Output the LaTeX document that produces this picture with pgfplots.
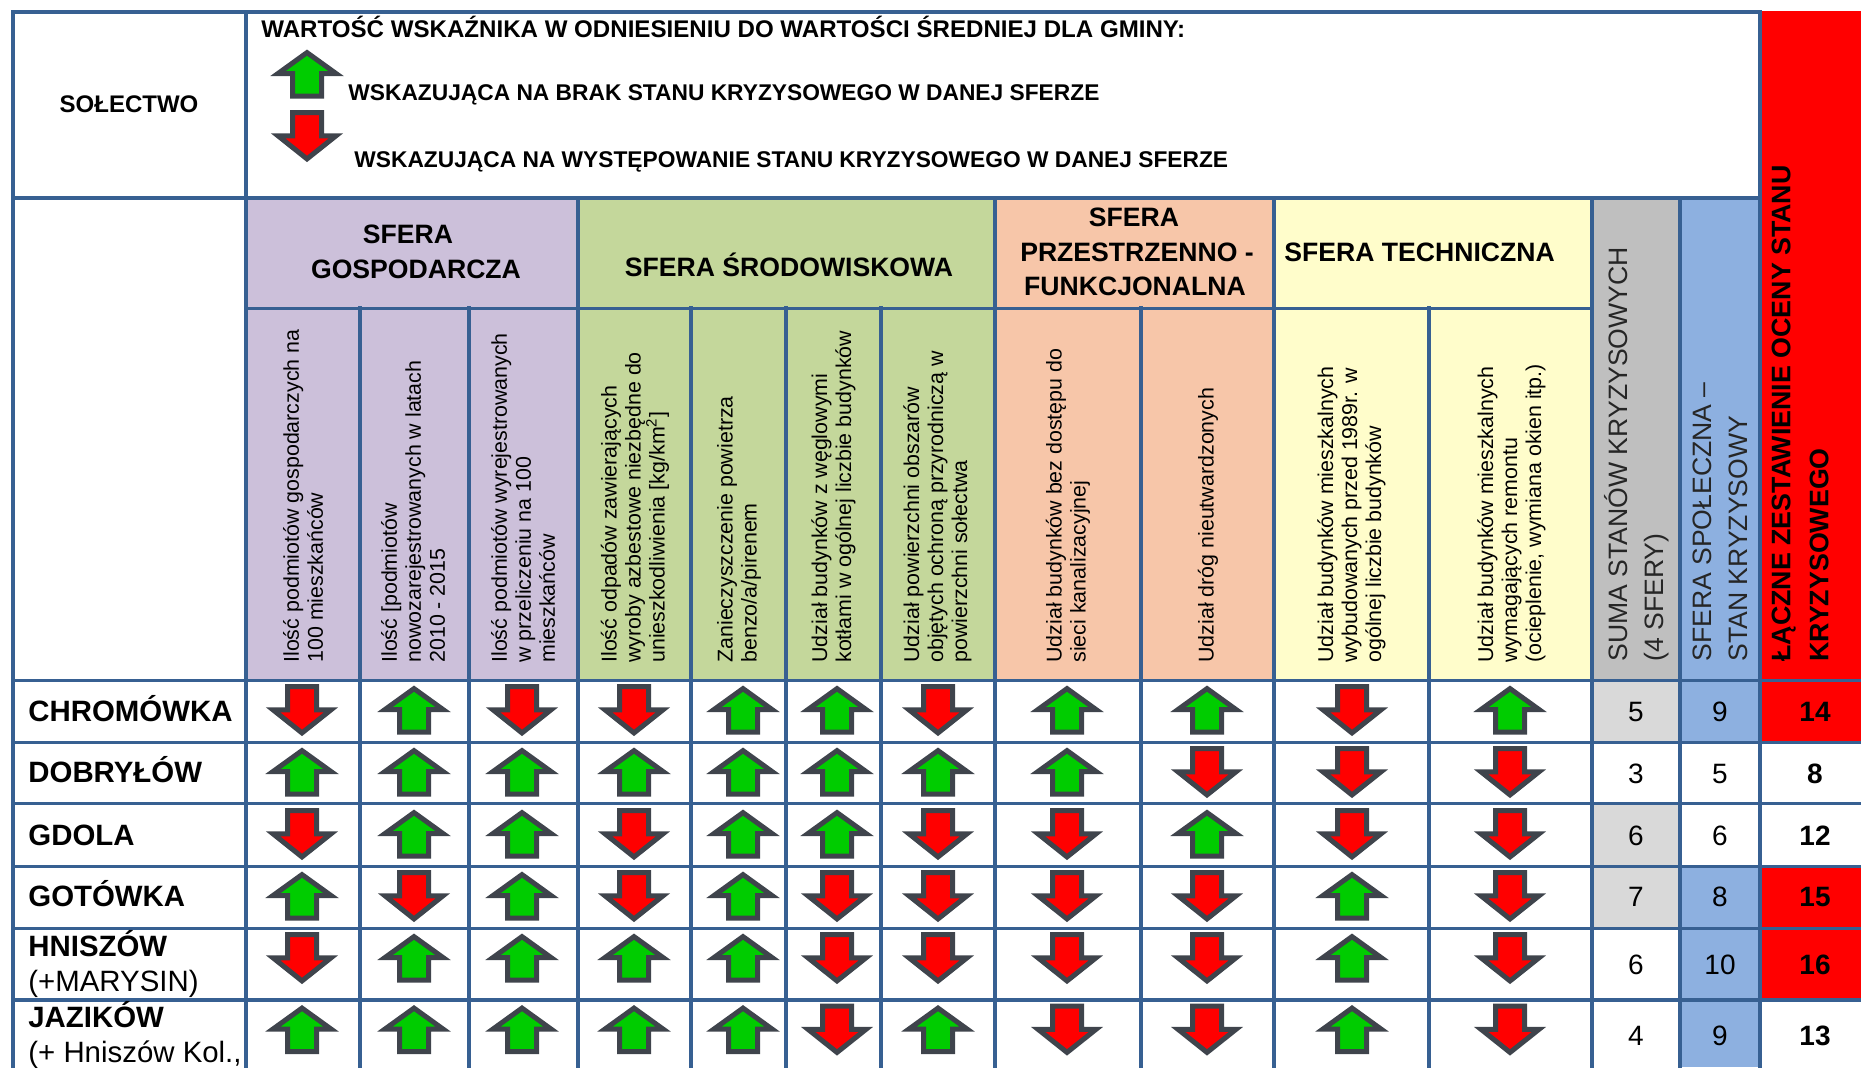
\documentclass[border=0pt]{standalone}
\usepackage{fontspec}
\setmainfont{Liberation Sans}
\usepackage{pgfplots}
\usepackage{pgfplotstable}
\pgfplotsset{compat=1.18}
\definecolor{gridc}{HTML}{376092}
\definecolor{cpur}{HTML}{CCC0DA}
\definecolor{cgrn}{HTML}{C4D79B}
\definecolor{cora}{HTML}{F7C6A9}
\definecolor{cyel}{HTML}{FFFDCB}
\definecolor{cgry}{HTML}{BFBFBF}
\definecolor{cblu}{HTML}{8DB0E0}
\definecolor{clgr}{HTML}{D9D9D9}
\definecolor{adark}{HTML}{3F444C}
\definecolor{agrn}{HTML}{00CC00}
\pgfdeclareplotmark{uparr}{%
  \pgfsetlinewidth{2.5pt}\pgfsetmiterjoin
  \pgfpathmoveto{\pgfqpoint{0pt}{10.7pt}}
  \pgfpathlineto{\pgfqpoint{14.5pt}{0.25pt}}
  \pgfpathlineto{\pgfqpoint{7.25pt}{0.25pt}}
  \pgfpathlineto{\pgfqpoint{7.25pt}{-11pt}}
  \pgfpathlineto{\pgfqpoint{-7.25pt}{-11pt}}
  \pgfpathlineto{\pgfqpoint{-7.25pt}{0.25pt}}
  \pgfpathlineto{\pgfqpoint{-14.5pt}{0.25pt}}
  \pgfpathclose\pgfusepathqfillstroke}
\pgfdeclareplotmark{downarr}{%
  \pgfsetlinewidth{2.5pt}\pgfsetmiterjoin
  \pgfpathmoveto{\pgfqpoint{0pt}{-11.45pt}}
  \pgfpathlineto{\pgfqpoint{14.5pt}{0.1pt}}
  \pgfpathlineto{\pgfqpoint{7.25pt}{0.1pt}}
  \pgfpathlineto{\pgfqpoint{7.25pt}{11.75pt}}
  \pgfpathlineto{\pgfqpoint{-7.25pt}{11.75pt}}
  \pgfpathlineto{\pgfqpoint{-7.25pt}{0.1pt}}
  \pgfpathlineto{\pgfqpoint{-14.5pt}{0.1pt}}
  \pgfpathclose\pgfusepathqfillstroke}
\pgfplotstableread{
x y
307 74
414 710
743 710
837 710
1067 710
1207 710
1510 710
302 772
414 772
522 772
634 772
743 772
837 772
938 772
1067 772
414 834
522 834
743 834
837 834
1207 834
302 896
522 896
743 896
1352 896
414 958
522 958
634 958
743 958
1352 958
302 1029.5
414 1029.5
522 1029.5
634 1029.5
743 1029.5
938 1029.5
1352 1029.5
}\uptable
\pgfplotstableread{
x y
307 136
302 710
522 710
634 710
938 710
1352 710
1207 772
1352 772
1510 772
302 834
634 834
938 834
1067 834
1352 834
1510 834
414 896
634 896
837 896
938 896
1067 896
1207 896
1510 896
302 958
837 958
938 958
1067 958
1207 958
1510 958
837 1029.5
1067 1029.5
1207 1029.5
1510 1029.5
}\downtable
\newcommand\cell[5]{\addplot[draw=none,fill=#5] coordinates {(#1,#2)(#3,#2)(#3,#4)(#1,#4)} --cycle;}
\newcommand\vl[3]{\addplot[gridc,line width=2pt,line cap=rect] coordinates {(#1,#2)(#1,#3)};}
\newcommand\hl[3]{\addplot[gridc,line width=1.75pt,line cap=rect] coordinates {(#2,#1)(#3,#1)};}
\begin{document}
\begin{tikzpicture}[
  rt/.style={rotate=90,anchor=west,align=left,inner sep=0pt,font=\fontsize{10.7}{12}\selectfont},
  rb/.style={rotate=90,anchor=west,align=left,inner sep=0pt,font=\fontsize{13.3}{18}\selectfont},
  lab/.style={inner sep=0pt,text height=.72em,text depth=0pt,yshift=-1pt},
  top/.style={lab,anchor=west,font=\fontsize{11.38}{12}\selectfont\bfseries},
  hdr/.style={lab,font=\fontsize{13.3}{15}\selectfont\bfseries},
  row/.style={lab,anchor=west,font=\fontsize{14.7}{17}\selectfont\bfseries},
  rowb/.style={lab,anchor=west,font=\fontsize{14.7}{17}\selectfont},
  num/.style={lab,font=\fontsize{14}{16}\selectfont},
  numb/.style={lab,font=\fontsize{14}{16}\selectfont\bfseries}]
\begin{axis}[scale only axis,width=930.5pt,height=533.5pt,xmin=0,xmax=1861,ymin=0,ymax=1067,y dir=reverse,axis lines=none,ticks=none]
\coordinate (SW) at (axis cs:0,1067);
\coordinate (NE) at (axis cs:1861,0);
% header fills
\cell{246}{198}{578}{680}{cpur}
\cell{578}{198}{995}{680}{cgrn}
\cell{995}{198}{1274}{680}{cora}
\cell{1274}{198}{1592}{680}{cyel}
\cell{1592}{198}{1680}{680}{cgry}
\cell{1680}{198}{1760}{680}{cblu}
\cell{1760}{11}{1861}{680}{red}
% body fills
\cell{1592}{680}{1680}{742}{clgr}
\cell{1592}{804}{1680}{929}{clgr}
\cell{1680}{680}{1760}{742}{cblu}
\cell{1680}{867}{1760}{1067}{cblu}
\cell{1760}{680}{1861}{742}{red}
\cell{1760}{867}{1861}{1000}{red}
% rules
\hl{12}{13}{1760}
\hl{198}{13}{1760}
\hl{308.5}{246}{1592}
\hl{680.5}{13}{1861}
\hl{742.5}{13}{1861}
\hl{803.5}{13}{1861}
\hl{866.5}{13}{1861}
\hl{928.5}{13}{1861}
\hl{1000}{13}{1861}
\vl{13}{12}{1067}
\vl{246}{12}{1067}
\vl{360}{308}{1067}
\vl{469}{308}{1067}
\vl{578}{198}{1067}
\vl{691}{308}{1067}
\vl{786}{308}{1067}
\vl{881}{308}{1067}
\vl{995}{198}{1067}
\vl{1141}{308}{1067}
\vl{1274}{198}{1067}
\vl{1429}{308}{1067}
\vl{1592}{198}{1067}
\vl{1680}{198}{1067}
\vl{1760}{12}{1067}
% arrows
\addplot[only marks,mark=uparr,mark options={draw=adark,fill=agrn}] table[x=x,y=y] {\uptable};
\addplot[only marks,mark=downarr,mark options={draw=adark,fill=red}] table[x=x,y=y] {\downtable};
% top text
\node[hdr,font=\fontsize{12}{14}\selectfont\bfseries] at (axis cs:129,103) {SOŁECTWO};
\node[top,font=\fontsize{12.05}{14}\selectfont\bfseries] at (axis cs:261,28) {WARTOŚĆ WSKAŹNIKA W ODNIESIENIU DO WARTOŚCI ŚREDNIEJ DLA GMINY:};
\node[top] at (axis cs:348,91) {WSKAZUJĄCA NA BRAK STANU KRYZYSOWEGO W DANEJ SFERZE};
\node[top] at (axis cs:354,158) {WSKAZUJĄCA NA WYSTĘPOWANIE STANU KRYZYSOWEGO W DANEJ SFERZE};
% sphere headers
\node[hdr] at (axis cs:408,234) {SFERA};
\node[hdr] at (axis cs:416,269) {GOSPODARCZA};
\node[hdr] at (axis cs:789,267) {SFERA ŚRODOWISKOWA};
\node[hdr] at (axis cs:1134,217) {SFERA};
\node[hdr] at (axis cs:1137,252) {PRZESTRZENNO -};
\node[hdr] at (axis cs:1135,286) {FUNKCJONALNA};
\node[hdr,anchor=west] at (axis cs:1284,252) {SFERA TECHNICZNA};
% rotated
\node[rt] at (axis cs:303,663) {Ilość podmiotów gospodarczych na\\100 mieszkańców};
\node[rt] at (axis cs:413,663) {Ilość [podmiotów\\nowozarejestrowanych w latach\\2010 - 2015};
\node[rt] at (axis cs:523,663) {Ilość podmiotów wyrejestrowanych\\w przeliczeniu na 100\\mieszkańców};
\node[rt] at (axis cs:635,663) {Ilość odpadów zawierających\\wyroby azbestowe niezbędne do\\unieszkodliwienia [kg/km\textsuperscript{2}]};
\node[rt] at (axis cs:739,663) {Zanieczyszczenie powietrza\\benzo/a/pirenem};
\node[rt] at (axis cs:833.5,663) {Udział budynków z węglowymi\\kotłami w ogólnej liczbie budynków};
\node[rt] at (axis cs:937.5,663) {Udział powierzchni obszarów\\objętych ochroną przyrodniczą w\\powierzchni sołectwa};
\node[rt] at (axis cs:1068,663) {Udział budynków bez dostępu do\\sieci kanalizacyjnej};
\node[rt] at (axis cs:1208,663) {Udział dróg nieutwardzonych};
\node[rt] at (axis cs:1351.5,663) {Udział budynków mieszkalnych\\wybudowanych przed 1989r. w\\ogólnej liczbie budynków};
\node[rt] at (axis cs:1511.5,663) {Udział budynków mieszkalnych\\wymagających remontu\\(ocieplenie, wymiana okien itp.)};
\node[rb,text=black!85] at (axis cs:1637,662) {SUMA STANÓW KRYZYSOWYCH\\(4 SFERY)};
\node[rb,text=black!85] at (axis cs:1720,662) {SFERA SPOŁECZNA –\\STAN KRYZYSOWY};
\node[rb,font=\fontsize{13.4}{19}\selectfont\bfseries] at (axis cs:1800,662) {ŁĄCZNE ZESTAWIENIE OCENY STANU\\KRYZYSOWEGO};
% row names
\node[row] at (axis cs:28,712) {CHROMÓWKA};
\node[row] at (axis cs:28,773) {DOBRYŁÓW};
\node[row] at (axis cs:28,836) {GDOLA};
\node[row] at (axis cs:28,897) {GOTÓWKA};
\node[row] at (axis cs:28,947) {HNISZÓW};
\node[rowb] at (axis cs:28,982) {(+MARYSIN)};
\node[row] at (axis cs:28,1018) {JAZIKÓW};
\node[rowb] at (axis cs:28,1053) {(+ Hniszów Kol.,};
% numbers
\node[num] at (axis cs:1636,712) {5};
\node[num] at (axis cs:1636,774) {3};
\node[num] at (axis cs:1636,836) {6};
\node[num] at (axis cs:1636,897) {7};
\node[num] at (axis cs:1636,965) {6};
\node[num] at (axis cs:1636,1036) {4};
\node[num] at (axis cs:1720,712) {9};
\node[num] at (axis cs:1720,774) {5};
\node[num] at (axis cs:1720,836) {6};
\node[num] at (axis cs:1720,897) {8};
\node[num] at (axis cs:1720,965) {10};
\node[num] at (axis cs:1720,1036) {9};
\node[numb] at (axis cs:1815,712) {14};
\node[numb] at (axis cs:1815,774) {8};
\node[numb] at (axis cs:1815,836) {12};
\node[numb] at (axis cs:1815,897) {15};
\node[numb] at (axis cs:1815,965) {16};
\node[numb] at (axis cs:1815,1036) {13};
\end{axis}
\pgfresetboundingbox
\path[use as bounding box] (SW) rectangle (NE);
\end{tikzpicture}
\end{document}
